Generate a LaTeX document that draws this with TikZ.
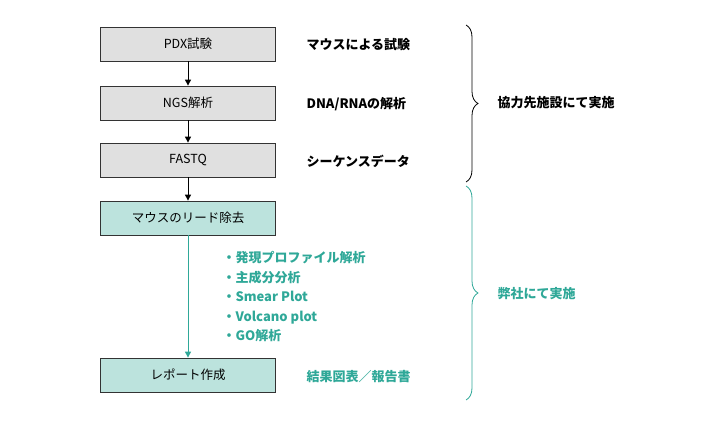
\documentclass[tikz,border=0pt]{standalone}
\usepackage{fontspec}
\setmainfont{Noto Sans CJK JP}
\usetikzlibrary{decorations.pathreplacing,arrows.meta}
\definecolor{tealt}{HTML}{2FA898}
\definecolor{tealf}{HTML}{BCE3DD}
\definecolor{grayf}{HTML}{E0E0E0}
\begin{document}
\begin{tikzpicture}[x=1pt,y=-1pt,
 box/.style={draw=black!80,line width=0.8pt,minimum width=175pt,minimum height=34pt,inner sep=0pt,font=\fontsize{12.5}{14}\selectfont},
 gbox/.style={box,fill=grayf},
 tbox/.style={box,fill=tealf},
 lab/.style={anchor=west,font=\bfseries\fontsize{13}{15}\selectfont},
 tlab/.style={lab,text=tealt},
 arr/.style={-{Triangle[length=6pt,width=6pt]},line width=1pt},
 br/.style={decorate,decoration={brace,amplitude=12pt},line width=0.8pt}]
\useasboundingbox (0,0) rectangle (710,430);
\node[gbox] (pdx) at (188,44) {PDX試験};
\node[gbox] (ngs) at (188,103) {NGS解析};
\node[gbox] (fq) at (188,160) {FASTQ};
\node[tbox] (mr) at (188,218) {マウスのリード除去};
\node[tbox] (rp) at (188,375) {レポート作成};
\draw[arr] (pdx) -- (ngs);
\draw[arr] (ngs) -- (fq);
\draw[arr] (fq) -- (mr);
\draw[arr,draw=tealt] (mr) -- (rp);
\node[lab] (l1) at (303,45) {マウスによる試験};
\node[lab] (l2) at (303,104) {DNA/RNAの解析};
\node[lab] (l3) at (303,161) {シーケンスデータ};
\node[tlab] (r1) at (303,377) {結果図表／報告書};
\node[tlab,align=left,anchor=north west,font=\bfseries\fontsize{13}{19.5}\selectfont] (lst) at (219,248)
 {・発現プロファイル解析\\・主成分分析\\・Smear Plot\\・Volcano plot\\・GO解析};
\coordinate (b1a) at (466,25); \coordinate (b1b) at (466,182);
\draw[br] (b1a) -- (b1b);
\node[lab] (c1) at (494,103) {協力先施設にて実施};
\coordinate (b2a) at (466,186); \coordinate (b2b) at (466,400);
\draw[br,draw=tealt] (b2a) -- (b2b);
\node[tlab] (c2) at (494,294) {弊社にて実施};
\end{tikzpicture}
\end{document}
